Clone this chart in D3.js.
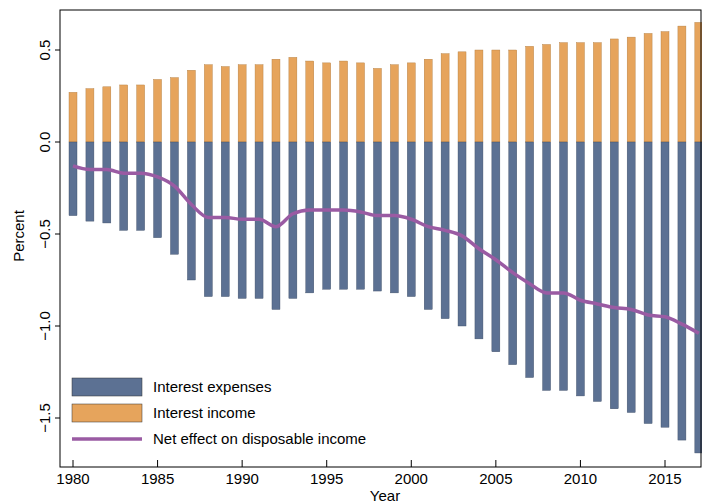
<!DOCTYPE html>
<meta charset="utf-8">
<script src="https://d3js.org/d3.v7.min.js"></script>
<style>body{margin:0;background:#fff}text{font-family:Arial,"Liberation Sans",sans-serif}</style>
<div id="chart"></div>
<script>
// Data
var years = d3.range(1980, 2018);
var income = [.27,.29,.30,.31,.31,.34,.35,.39,.42,.41,.42,.42,.45,.46,.44,.43,.44,.43,.40,.42,.43,.45,.48,.49,.50,.50,.50,.52,.53,.54,.54,.54,.56,.57,.59,.60,.63,.65];
var expenses = [-.40,-.43,-.44,-.48,-.48,-.52,-.61,-.75,-.84,-.84,-.85,-.85,-.91,-.85,-.82,-.80,-.80,-.80,-.81,-.82,-.84,-.91,-.96,-1.0,-1.07,-1.14,-1.21,-1.28,-1.35,-1.35,-1.38,-1.41,-1.45,-1.47,-1.53,-1.55,-1.62,-1.69];
var net = [-.13,-.15,-.15,-.17,-.17,-.19,-.24,-.34,-.41,-.41,-.42,-.42,-.46,-.39,-.37,-.37,-.37,-.38,-.40,-.40,-.42,-.46,-.48,-.51,-.58,-.64,-.71,-.77,-.82,-.82,-.86,-.88,-.90,-.91,-.94,-.95,-.99,-1.04];
var yTicks = [0.5, 0, -0.5, -1.0, -1.5];
var xTicks = [1980,1985,1990,1995,2000,2005,2010,2015];

var W = 702, H = 503, L = 60, R = 701, T = 10, B = 467;
var blue = "#5c7193", orange = "#e6a45c", purple = "#9a5ba3";
var svg = d3.select("#chart").append("svg").attr("width", W).attr("height", H);

var x = d3.scaleLinear().domain([1980, 2015]).range([73, 665]);
var y = d3.scaleLinear().domain([0, -1]).range([142, 326]);
var bw = 8;

svg.selectAll(".inc").data(years).enter().append("rect")
  .attr("x", d => x(d) - bw/2).attr("width", bw)
  .attr("y", (d,i) => y(income[i])).attr("height", (d,i) => y(0) - y(income[i]))
  .attr("fill", orange).attr("stroke", "#b07a3c").attr("stroke-width", 0.4);
svg.selectAll(".exp").data(years).enter().append("rect")
  .attr("x", d => x(d) - bw/2).attr("width", bw)
  .attr("y", y(0)).attr("height", (d,i) => y(expenses[i]) - y(0))
  .attr("fill", blue).attr("stroke", "#3b4a63").attr("stroke-width", 0.4);

svg.append("path").datum(years)
  .attr("fill", "none").attr("stroke", purple).attr("stroke-width", 3.5)
  .attr("d", d3.line().x(d => x(d)).y((d,i) => y(net[i])).curve(d3.curveMonotoneX));

svg.append("rect").attr("x", L).attr("y", T).attr("width", R - L).attr("height", B - T)
  .attr("fill", "none").attr("stroke", "#000").attr("stroke-width", 1);

// Y axis
yTicks.forEach(v => {
  svg.append("line").attr("x1", L - 5).attr("x2", L).attr("y1", y(v)).attr("y2", y(v)).attr("stroke", "#000");
  svg.append("text").attr("transform", "translate(" + (L - 10) + "," + y(v) + ") rotate(-90)")
    .attr("text-anchor", "middle").attr("font-size", 15).text(d3.format(".1f")(v));
});
svg.append("text").attr("transform", "translate(24,236) rotate(-90)")
  .attr("text-anchor", "middle").attr("font-size", 15).text("Percent");

// X axis
xTicks.forEach(v => {
  svg.append("line").attr("x1", x(v)).attr("x2", x(v)).attr("y1", B - 7).attr("y2", B).attr("stroke", "#000");
  svg.append("text").attr("x", x(v)).attr("y", B + 17).attr("text-anchor", "middle").attr("font-size", 15).text(v);
});
svg.append("text").attr("x", 385).attr("y", 501).attr("text-anchor", "middle").attr("font-size", 15).text("Year");

// Legend
var leg = [["Interest expenses", blue, "box"], ["Interest income", orange, "box"], ["Net effect on disposable income", purple, "line"]];
leg.forEach((d, i) => {
  var ly = 387 + i * 26;
  if (d[2] === "box") svg.append("rect").attr("x", 72).attr("y", ly - 9).attr("width", 70).attr("height", 18)
    .attr("fill", d[1]).attr("stroke", "#333").attr("stroke-width", 0.5);
  else svg.append("line").attr("x1", 72).attr("x2", 142).attr("y1", ly).attr("y2", ly).attr("stroke", d[1]).attr("stroke-width", 3.5);
  svg.append("text").attr("x", 153).attr("y", ly + 5).attr("font-size", 15).text(d[0]);
});
</script>
